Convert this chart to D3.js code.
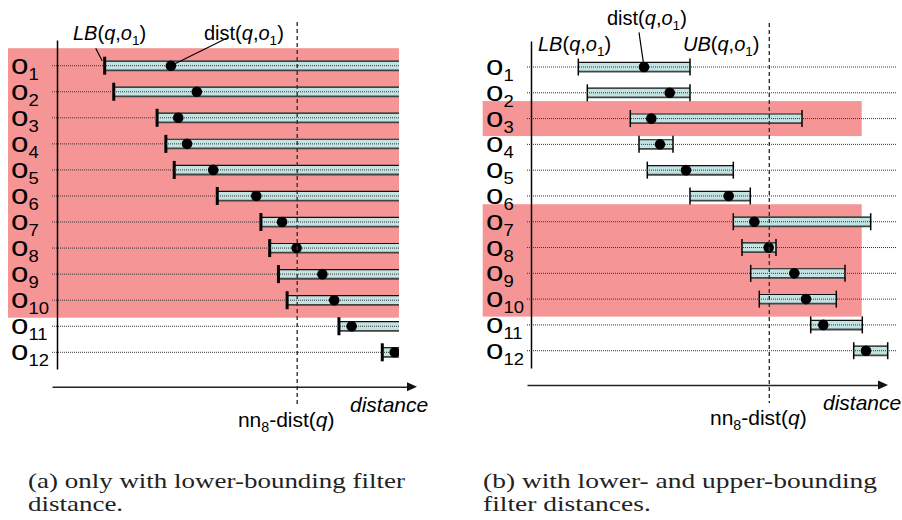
<!DOCTYPE html>
<html><head><meta charset="utf-8">
<script src="https://cdn.jsdelivr.net/npm/d3@7"></script>
<style>body{margin:0;background:#fff} svg{display:block}</style>
</head><body>
<svg id="chart" width="902" height="520"></svg>
<script>
// ---- data (distance units) ----
const objects = ["1","2","3","4","5","6","7","8","9","10","11","12"];
const lbValues   = [47.3, 56.3, 99.3, 108, 116.3, 159, 202.3, 211, 219.7, 228.3, 279.7, 322.7];
const distValues = [113, 138.7, 120.3, 129, 155, 197.7, 223.3, 237.7, 263.3, 275, 292.3, 335];
const ubValues   = [159, 159, 271, 142, 202.3, 219.3, 339.7, 245, 314, 305.3, 331.3, 356.7];
const nn8Dist = 238.3;
const highlightA = [["1","2","3","4","5","6","7","8","9","10"]];
const highlightB = [["3"], ["7","8","9","10"]];
const captionA = ["(a) only with lower-bounding filter", "distance."];
const captionB = ["(b) with lower- and upper-bounding", "filter distances."];
const xAxisLabel = "distance";

const svg = d3.select("#chart");
const FONT = "'Liberation Sans', Arial, sans-serif";
const SERIF = "'Liberation Serif', 'Times New Roman', serif";
const RED = "#f69595";
const CYAN = "#c3e3e3";

function richText(g, x, y, parts, size, anchor) {
  const t = g.append("text").attr("x", x).attr("y", y)
    .attr("font-family", FONT).attr("font-size", size)
    .attr("text-anchor", anchor || "start").attr("fill", "#000");
  let shift = 0;
  parts.forEach(p => {
    const sp = t.append("tspan").text(p.t);
    const target = p.sub ? size * 0.25 : 0;
    if (target !== shift) { sp.attr("dy", target - shift); shift = target; }
    if (p.sub) sp.attr("font-size", size * 0.68);
    if (p.i) sp.attr("font-style", "italic");
  });
  return t;
}
const LBparts = [{t:"LB",i:1},{t:"("},{t:"q",i:1},{t:","},{t:"o",i:1},{t:"1",sub:1},{t:")"}];
const UBparts = [{t:"UB",i:1},{t:"("},{t:"q",i:1},{t:","},{t:"o",i:1},{t:"1",sub:1},{t:")"}];
const DISTparts = [{t:"dist("},{t:"q",i:1},{t:","},{t:"o",i:1},{t:"1",sub:1},{t:")"}];
const NNparts = [{t:"nn"},{t:"8",sub:1},{t:"-dist("},{t:"q",i:1},{t:")"}];

function panel(o) {
  const g = svg.append("g");
  const x = d3.scaleLinear().domain([0, 360]).range([o.x0, o.x0 + 360 * o.k]);
  const y = d3.scalePoint().domain(objects).range(o.yRange);
  const clipId = "clip" + o.id;
  g.append("clipPath").attr("id", clipId).append("rect")
    .attr("x", 0).attr("y", 0).attr("width", o.clipRight).attr("height", 520);

  // highlight bands
  g.selectAll("rect.band").data(o.highlight).join("rect")
    .attr("x", o.bandX[0]).attr("width", o.bandX[1] - o.bandX[0])
    .attr("y", d => y(d[0]) - 17.5)
    .attr("height", d => y(d[d.length - 1]) - y(d[0]) + 35)
    .attr("fill", RED);

  const rows = objects.map((id, i) => ({id, lb: lbValues[i], dist: distValues[i], ub: ubValues[i]}));
  const cg = g.append("g").attr("clip-path", `url(#${clipId})`);
  const hiEnd = d => o.upper ? x(d.ub) : o.clipRight + 5;

  // bars
  const bar = cg.selectAll("g.bar").data(rows).join("g");
  bar.append("rect").attr("x", d => x(d.lb)).attr("y", d => y(d.id) - 5)
    .attr("width", d => hiEnd(d) - x(d.lb)).attr("height", 10).attr("fill", CYAN);
  bar.append("line").attr("x1", d => x(d.lb)).attr("x2", hiEnd)
    .attr("y1", d => y(d.id) - 4.6).attr("y2", d => y(d.id) - 4.6)
    .attr("stroke", "#111").attr("stroke-width", 1.2);
  bar.append("line").attr("x1", d => x(d.lb)).attr("x2", hiEnd)
    .attr("y1", d => y(d.id) + 4.6).attr("y2", d => y(d.id) + 4.6)
    .attr("stroke", "#444").attr("stroke-width", 1.8);

  // dotted row guides
  cg.selectAll("line.grid").data(objects).join("line")
    .attr("x1", o.gridX[0]).attr("x2", o.gridX[1])
    .attr("y1", d => y(d)).attr("y2", d => y(d))
    .attr("stroke", "#333").attr("stroke-width", 1).attr("stroke-dasharray", "1,1");

  // bound ticks
  bar.append("line").attr("x1", d => x(d.lb)).attr("x2", d => x(d.lb))
    .attr("y1", d => y(d.id) - o.tickH).attr("y2", d => y(d.id) + o.tickH)
    .attr("stroke", "#000").attr("stroke-width", o.tickW);
  if (o.upper) {
    bar.append("line").attr("x1", d => x(d.ub)).attr("x2", d => x(d.ub))
      .attr("y1", d => y(d.id) - o.tickH).attr("y2", d => y(d.id) + o.tickH)
      .attr("stroke", "#000").attr("stroke-width", o.tickW);
  }

  // nn8-dist dashed line
  g.append("line").attr("x1", x(nn8Dist)).attr("x2", x(nn8Dist))
    .attr("y1", o.dashY[0]).attr("y2", o.dashY[1])
    .attr("stroke", "#333").attr("stroke-width", 1.4).attr("stroke-dasharray", "4,3");

  // dots
  cg.selectAll("circle.d").data(rows).join("circle")
    .attr("cx", d => x(d.dist)).attr("cy", d => y(d.id)).attr("r", 5.3).attr("fill", "#000");

  // y axis (vertical line)
  const yAxisScale = d3.scaleLinear().range(o.yAxisY);
  g.append("g").attr("transform", `translate(${o.x0},0)`)
    .call(d3.axisLeft(yAxisScale).tickValues([]).tickSizeOuter(0))
    .select(".domain").attr("stroke", "#000").attr("stroke-width", 1.5);

  // x axis with arrow
  const xAxisScale = d3.scaleLinear().range([o.gridX[0], o.arrowTip - 8]);
  g.append("g").attr("transform", `translate(0,${o.axisY})`)
    .call(d3.axisBottom(xAxisScale).tickValues([]).tickSizeOuter(0))
    .select(".domain").attr("stroke", "#222").attr("stroke-width", 1.5);
  g.append("path").attr("d", `M${o.arrowTip},${o.axisY} L${o.arrowTip - 10},${o.axisY - 4.5} L${o.arrowTip - 10},${o.axisY + 4.5} Z`)
    .attr("fill", "#111");

  // row labels
  objects.forEach(id => {
    const t = g.append("text").attr("transform", `translate(${o.labelX},${y(id) + 8}) scale(1.12,1)`)
      .attr("font-family", FONT).attr("font-size", 28).attr("fill", "#000");
    t.append("tspan").text("o");
    t.append("tspan").text(id).attr("font-size", 16.5).attr("dy", 6);
  });

  // axis texts
  g.append("text").attr("x", o.distLabel[0]).attr("y", o.distLabel[1])
    .attr("font-family", FONT).attr("font-size", 21).attr("font-style", "italic").text(xAxisLabel);
  richText(g, x(nn8Dist) - 11, o.nnY, NNparts, 21, "middle");
  return {g, x, y};
}

// ---- panel (a) ----
const A = panel({id: "a", x0: 57, k: 1.008, yRange: [65.7, 352.3], clipRight: 399,
  highlight: highlightA, bandX: [8, 399], upper: false, gridX: [52, 399],
  tickH: 9, tickW: 3, dashY: [22, 405], yAxisY: [40, 369], axisY: 386.7, arrowTip: 417,
  labelX: 11, distLabel: [350, 412], nnY: 427});
richText(A.g, 73, 40, LBparts, 20);
richText(A.g, 204, 40, DISTparts, 20);
A.g.append("line").attr("x1", 95.7).attr("y1", 48.3)
  .attr("x2", A.x(lbValues[0]) - 2.5).attr("y2", A.y("1") - 5).attr("stroke", "#000").attr("stroke-width", 1.2);
A.g.append("line").attr("x1", 226.7).attr("y1", 38.3)
  .attr("x2", A.x(distValues[0])).attr("y2", A.y("1")).attr("stroke", "#000").attr("stroke-width", 1.2);

// ---- panel (b) ----
const B = panel({id: "b", x0: 531, k: 1, yRange: [67, 350.7], clipRight: 902,
  highlight: highlightB, bandX: [482.7, 861.7], upper: true, gridX: [527, 897],
  tickH: 8.5, tickW: 1.5, dashY: [23, 403], yAxisY: [41, 368], axisY: 385, arrowTip: 888,
  labelX: 486, distLabel: [823, 410], nnY: 425});
richText(B.g, 607, 25, DISTparts, 20);
richText(B.g, 538, 51, LBparts, 20);
richText(B.g, 683, 51, UBparts, 20);
B.g.append("line").attr("x1", 639).attr("y1", 32.3)
  .attr("x2", B.x(distValues[0])).attr("y2", B.y("1")).attr("stroke", "#000").attr("stroke-width", 1.2);

// ---- captions ----
function caption(x, lines, firstWidth) {
  const texts = lines.map((l, i) => svg.append("text").attr("x", x).attr("y", 488 + i * 23)
      .attr("font-family", SERIF).attr("font-size", 21).attr("fill", "#222").text(l));
  const factor = firstWidth / texts[0].node().getComputedTextLength();
  texts.forEach(t => {
    const w = t.node().getComputedTextLength();
    t.attr("textLength", w * factor).attr("lengthAdjust", "spacingAndGlyphs");
  });
}
caption(28, captionA, 377);
caption(483, captionB, 394);
</script>
</body></html>
